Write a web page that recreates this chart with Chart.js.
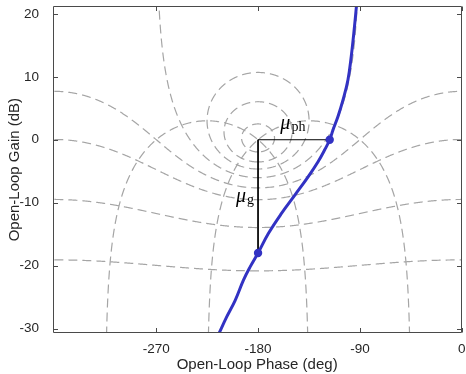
<!DOCTYPE html>
<html><head><meta charset="utf-8">
<script src="https://cdn.jsdelivr.net/npm/chart.js@4/dist/chart.umd.min.js"></script>
<style>html,body{margin:0;padding:0;background:#fff;}#wrap{position:relative;width:466px;height:374px;}</style>
</head><body><div id="wrap"><canvas id="c" width="466" height="374"></canvas></div>
<script>
// ---- data ----
const phaseTicks = [-270, -180, -90, 0];
const gainTicks = [-30, -20, -10, 0, 10, 20];
const loopPhase = [-214.9, -207.6, -200.2, -192.9, -187.0, -180.0, -170.9, -159.3, -147.5, -135.8, -127.0, -121.1, -116.7, -113.8, -109.4, -105.0, -100.6, -97.7, -94.8, -93.1];
const loopGain  = [-30.9, -28.1, -25.5, -22.3, -20.2, -18.0, -14.9, -11.7, -8.8, -5.9, -3.5, -1.6, 0.0, 1.55, 3.7, 6.3, 9.5, 13.2, 18.0, 21.2];
const marginPhase = [-180, -116.7];
const marginGain = [-18, 0];
// Nichols grid levels (closed-loop magnitude in dB, closed-loop phase in deg)
const mLevels = [12, 6, 3, 0, -3, -6, -12, -20];
const nLevels = [-45, -135, -225, -315];

const X_MIN = -361.6, X_MAX = 0, Y_MIN = -30.7, Y_MAX = 21.2;
const GRID = 'rgb(165,165,165)';
const BLUE = 'rgb(50,50,195)';
const INK = '#262626';

function toNichols(re, im) {
  let ph = Math.atan2(im, re) * 180 / Math.PI;
  if (ph > 0) ph -= 360;
  return {x: ph, y: 20 * Math.log10(Math.hypot(re, im))};
}
function mContour(db) {
  const pts = [];
  if (db === 0) {
    for (let a = -89.4; a <= 89.4; a += 0.2) {
      pts.push(toNichols(-0.5, 0.5 * Math.tan(a * Math.PI / 180)));
    }
    return pts;
  }
  const m = Math.pow(10, db / 20), c = m * m / (1 - m * m), r = Math.abs(m / (1 - m * m));
  const eps = m < 1 ? 0.05 : 0;
  for (let th = eps; th <= 360 - eps + 1e-9; th += 0.5) {
    const t = th * Math.PI / 180;
    pts.push(toNichols(c + r * Math.cos(t), r * Math.sin(t)));
  }
  return pts;
}
function nContour(phi) {
  const pts = [], p = phi * Math.PI / 180;
  for (let e = -3; e <= 3.5; e += 0.01) {
    const t = Math.pow(10, e);
    const tr = t * Math.cos(p), ti = t * Math.sin(p);
    const dr = 1 - tr, di = -ti, d2 = dr * dr + di * di;
    pts.push(toNichols((tr * dr + ti * di) / d2, (ti * dr - tr * di) / d2));
  }
  return pts;
}

const gridSets = [];
mLevels.forEach(v => gridSets.push(mContour(v)));
nLevels.forEach(v => gridSets.push(nContour(v)));

const datasets = [];
datasets.push({
  data: marginPhase.map((p, i) => ({x: p, y: marginGain[i]})),
  showLine: false, pointRadius: 4.2, pointBackgroundColor: BLUE, pointBorderColor: BLUE, pointBorderWidth: 0, order: 0
});
datasets.push({
  data: loopPhase.map((p, i) => ({x: p, y: loopGain[i]})),
  showLine: true, borderColor: BLUE, borderWidth: 3, pointRadius: 0, tension: 0.4, clip: 0, order: 1
});
datasets.push({
  data: [{x: marginPhase[1], y: 0}, {x: marginPhase[0], y: 0}, {x: marginPhase[0], y: marginGain[0]}],
  showLine: true, borderColor: '#000', borderWidth: 1, pointRadius: 0, tension: 0, order: 2
});
gridSets.forEach(pts => datasets.push({
  data: pts, showLine: true, borderColor: GRID, borderWidth: 1.2, borderDash: [9, 5], pointRadius: 0, tension: 0, clip: 0, order: 5
}));

const decor = {
  id: 'decor',
  afterDatasetsDraw(chart) {
    const {ctx, chartArea: a, scales: {x, y}} = chart;
    ctx.save();
    ctx.lineWidth = 1;
    ctx.strokeStyle = '#4a4a4a';
    const L = Math.round(a.left) + 0.5, R = Math.round(a.right) - 0.5, T = Math.round(a.top) + 0.5, B = Math.round(a.bottom) - 0.5;
    ctx.beginPath();
    ctx.moveTo(L, T); ctx.lineTo(R, T); ctx.lineTo(R, B); ctx.lineTo(L, B); ctx.closePath();
    phaseTicks.forEach(v => {
      const px = Math.round(x.getPixelForValue(v)) + 0.5;
      ctx.moveTo(px, B); ctx.lineTo(px, B - 4.5);
      ctx.moveTo(px, T); ctx.lineTo(px, T + 4.5);
    });
    gainTicks.forEach(v => {
      const py = Math.round(y.getPixelForValue(v)) + 0.5;
      ctx.moveTo(L, py); ctx.lineTo(L + 4.5, py);
      ctx.moveTo(R, py); ctx.lineTo(R - 4.5, py);
    });
    ctx.stroke();
    // margin labels
    ctx.fillStyle = '#000';
    ctx.textBaseline = 'alphabetic';
    const mu = 'μ';
    function label(sub, cx, baseY, alignRight) {
      ctx.font = 'italic 20px "Liberation Serif"';
      const w1 = ctx.measureText(mu).width;
      ctx.font = '14px "Liberation Serif"';
      const w2 = ctx.measureText(sub).width;
      const x0 = alignRight ? cx - w1 - w2 - 1 : cx - (w1 + w2 + 1) / 2;
      ctx.font = 'italic 20px "Liberation Serif"';
      ctx.textAlign = 'left';
      ctx.fillText(mu, x0, baseY);
      ctx.font = '14px "Liberation Serif"';
      ctx.fillText(sub, x0 + w1 + 1, baseY + 2);
    }
    const x180 = x.getPixelForValue(marginPhase[0]);
    const xpm = x.getPixelForValue(marginPhase[1]);
    const y0 = y.getPixelForValue(0);
    const ymid = y.getPixelForValue(marginGain[0] / 2);
    label('ph', (x180 + xpm) / 2 - 1, y0 - 11, false);
    label('g', x180 - 4, ymid + 6, true);
    ctx.restore();
  }
};

new Chart(document.getElementById('c'), {
  type: 'scatter',
  data: {datasets},
  plugins: [decor],
  options: {
    responsive: false, animation: false, devicePixelRatio: 1,
    layout: {padding: {top: 6.3, right: 2, left: 0, bottom: 0}},
    plugins: {legend: {display: false}, tooltip: {enabled: false}},
    scales: {
      x: {
        type: 'linear', min: X_MIN, max: X_MAX,
        afterBuildTicks: s => { s.ticks = phaseTicks.map(v => ({value: v})); },
        afterFit: s => { s.height = 41; s.paddingLeft = 0; s.paddingRight = 0; },
        grid: {display: false}, border: {display: false},
        ticks: {color: INK, padding: 0, maxRotation: 0, autoSkip: false, font: {family: 'Liberation Sans', size: 13.5}},
        title: {display: true, text: 'Open-Loop Phase (deg)', color: INK, padding: {top: 0, bottom: 0.5}, font: {family: 'Liberation Sans', size: 15}}
      },
      y: {
        type: 'linear', min: Y_MIN, max: Y_MAX,
        afterBuildTicks: s => { s.ticks = gainTicks.map(v => ({value: v})); },
        afterFit: s => { s.width = 52.5; s.paddingTop = 0; s.paddingBottom = 0; },
        grid: {display: false}, border: {display: false},
        ticks: {color: INK, padding: 5.5, autoSkip: false, font: {family: 'Liberation Sans', size: 13.5}},
        title: {display: true, text: 'Open-Loop Gain (dB)', color: INK, padding: {top: 5.7, bottom: 0}, font: {family: 'Liberation Sans', size: 15}}
      }
    }
  }
});
</script>
</body></html>
